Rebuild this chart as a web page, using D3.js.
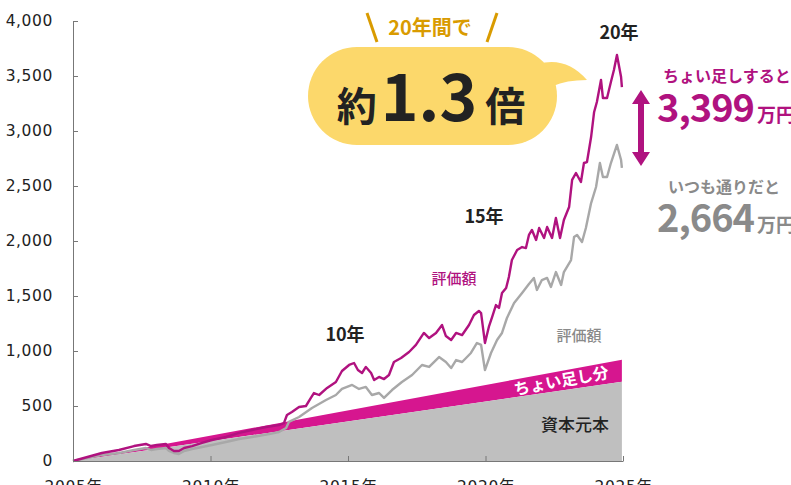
<!DOCTYPE html>
<html lang="ja">
<head>
<meta charset="utf-8">
<script src="https://cdn.jsdelivr.net/npm/d3@7"></script>
<style>
  html, body { margin: 0; padding: 0; background: #fff; }
  svg { display: block; }
</style>
</head>
<body>
<div id="chart"></div>
<script>
// ちょい足しする場合の評価額（万円）
const plusYears = [2005.00, 2006.05, 2006.67, 2007.22, 2007.65, 2007.84, 2008.05, 2008.38, 2008.49, 2008.67,
  2008.85, 2009.04, 2009.33, 2009.69, 2010.05, 2010.56, 2011.04, 2011.51, 2012.02, 2012.49,
  2012.67, 2012.78, 2012.96, 2013.22, 2013.47, 2013.65, 2013.76, 2013.95, 2014.24, 2014.56,
  2014.78, 2015.04, 2015.22, 2015.36, 2015.51, 2015.65, 2015.84, 2015.95, 2016.13, 2016.31,
  2016.49, 2016.67, 2016.93, 2017.22, 2017.47, 2017.76, 2017.95, 2018.20, 2018.42, 2018.56,
  2018.75, 2018.93, 2019.15, 2019.40, 2019.58, 2019.76, 2019.84, 2019.98, 2020.13, 2020.24,
  2020.38, 2020.49, 2020.60, 2020.75, 2020.85, 2020.96, 2021.15, 2021.33, 2021.47, 2021.58,
  2021.69, 2021.84, 2021.95, 2022.13, 2022.24, 2022.42, 2022.56, 2022.71, 2022.85, 2023.04,
  2023.15, 2023.29, 2023.47, 2023.58, 2023.69, 2023.84, 2023.95, 2024.05, 2024.20, 2024.27,
  2024.42, 2024.56, 2024.67, 2024.78, 2024.93, 2024.96];
const plusValues = [0, 73, 100, 136, 155, 136, 145, 155, 118, 91,
  91, 118, 136, 164, 191, 218, 255, 282, 309, 327,
  345, 418, 445, 491, 500, 573, 618, 600, 664, 718,
  818, 873, 891, 827, 800, 855, 800, 736, 764, 745,
  782, 900, 936, 991, 1055, 1164, 1118, 1164, 1236, 1136,
  1100, 1164, 1145, 1236, 1327, 1364, 1345, 1073, 1227, 1309,
  1418, 1391, 1527, 1573, 1673, 1827, 1918, 1945, 1936, 2055,
  2100, 2009, 2118, 2027, 2127, 2027, 2209, 2027, 2191, 2309,
  2555, 2618, 2536, 2709, 2718, 2945, 3173, 3264, 3464, 3300,
  3300, 3445, 3555, 3691, 3491, 3399];

// いつも通りの場合の評価額（万円）
const baseYears = [2005.00, 2006.05, 2006.67, 2007.22, 2007.65, 2007.84, 2008.05, 2008.38, 2008.49, 2008.67,
  2008.85, 2009.04, 2009.33, 2009.69, 2010.05, 2010.56, 2011.04, 2011.51, 2012.13, 2012.49,
  2012.75, 2012.85, 2013.22, 2013.69, 2014.20, 2014.56, 2014.78, 2015.15, 2015.40, 2015.65,
  2015.87, 2016.13, 2016.31, 2016.60, 2016.96, 2017.33, 2017.69, 2017.95, 2018.31, 2018.56,
  2018.75, 2018.93, 2019.15, 2019.47, 2019.69, 2019.84, 2019.98, 2020.20, 2020.42, 2020.60,
  2020.78, 2021.04, 2021.33, 2021.58, 2021.76, 2021.87, 2022.05, 2022.24, 2022.38, 2022.56,
  2022.75, 2022.85, 2023.11, 2023.22, 2023.33, 2023.51, 2023.65, 2023.84, 2024.02, 2024.16,
  2024.27, 2024.42, 2024.56, 2024.78, 2024.93, 2024.96];
const baseValues = [0, 55, 73, 100, 118, 100, 109, 118, 91, 73,
  64, 91, 109, 127, 145, 173, 200, 218, 245, 264,
  300, 355, 400, 482, 555, 600, 655, 691, 655, 673,
  600, 618, 573, 645, 718, 782, 873, 855, 945, 900,
  845, 918, 900, 982, 1073, 1055, 827, 982, 1100, 1164,
  1300, 1436, 1527, 1609, 1664, 1555, 1645, 1664, 1582, 1718,
  1600, 1718, 1827, 2036, 2055, 1991, 2118, 2345, 2491, 2709,
  2582, 2582, 2709, 2873, 2736, 2664];

// 資本元本 と ちょい足し分
const principalYears = [2005, 2024.96];
const principalValues = [0, 720];
const totalValues = [0, 920];

const yTicks = [0, 500, 1000, 1500, 2000, 2500, 3000, 3500, 4000];
const xTicks = [2005, 2010, 2015, 2020, 2025];

const width = 791, height = 485;
const margin = { top: 21, bottom: 24 };

const colors = {
  plusLine: "#b0127f",
  band: "#d6168f",
  baseLine: "#a8a8a8",
  principal: "#bfbfbf",
  axis: "#777",
  ink: "#222",
  gold: "#d99b00",
  bubble: "#fcd86b",
  grayText: "#8a8a8a"
};

const jp = "'Noto Sans CJK JP', 'Noto Sans', sans-serif";

const xScale = d3.scaleLinear().domain([2005, 2025]).range([73, 623]);
const yScale = d3.scaleLinear().domain([0, 4000]).range([height - margin.bottom, margin.top]);

const svg = d3.select("#chart").append("svg")
  .attr("width", width)
  .attr("height", height);

// areas
const principalData = principalYears.map((t, i) => ({ t, p: principalValues[i], s: totalValues[i] }));

svg.append("path")
  .datum(principalData)
  .attr("fill", colors.band)
  .attr("d", d3.area().x(d => xScale(d.t)).y0(d => yScale(d.p)).y1(d => yScale(d.s)));

svg.append("path")
  .datum(principalData)
  .attr("fill", colors.principal)
  .attr("d", d3.area().x(d => xScale(d.t)).y0(yScale(0)).y1(d => yScale(d.p)));

// lines
const line = d3.line().x(d => xScale(d[0])).y(d => yScale(d[1]));

svg.append("path")
  .datum(baseYears.map((t, i) => [t, baseValues[i]]))
  .attr("fill", "none")
  .attr("stroke", colors.baseLine)
  .attr("stroke-width", 2.4)
  .attr("stroke-linejoin", "round")
  .attr("d", line);

svg.append("path")
  .datum(plusYears.map((t, i) => [t, plusValues[i]]))
  .attr("fill", "none")
  .attr("stroke", colors.plusLine)
  .attr("stroke-width", 2.4)
  .attr("stroke-linejoin", "round")
  .attr("d", line);

// axes
const yAxis = svg.append("g")
  .attr("transform", `translate(${xScale(2005)},0)`)
  .call(d3.axisLeft(yScale)
    .tickValues(yTicks)
    .tickFormat(d3.format(","))
    .tickSize(-5)
    .tickSizeOuter(0)
    .tickPadding(20));

const xAxis = svg.append("g")
  .attr("transform", `translate(0,${yScale(0)})`)
  .call(d3.axisBottom(xScale)
    .tickValues(xTicks)
    .tickFormat(d => d + "年")
    .tickSize(-5)
    .tickSizeOuter(0)
    .tickPadding(20));

[yAxis, xAxis].forEach(g => {
  g.select(".domain").attr("stroke", colors.axis);
  g.selectAll(".tick line").attr("stroke", colors.axis);
  g.selectAll(".tick text")
    .attr("fill", colors.ink)
    .style("font-family", "'DejaVu Sans', " + jp)
    .style("font-size", "15.5px")
    .style("letter-spacing", "0.6px");
});

// labels on areas
const tBand = 2022.75;
const frac = (tBand - principalYears[0]) / (principalYears[1] - principalYears[0]);
const bandMid = (principalValues[1] + totalValues[1]) / 2 * frac;
const angle = Math.atan2(yScale(totalValues[1]) - yScale(0), xScale(principalYears[1]) - xScale(2005)) * 180 / Math.PI;

svg.append("text")
  .attr("transform", `translate(${xScale(tBand)},${yScale(bandMid)}) rotate(${angle})`)
  .attr("text-anchor", "middle")
  .attr("dy", "0.36em")
  .attr("fill", "#fff")
  .style("font-family", jp)
  .style("font-weight", 700)
  .style("font-size", "16px")
  .text("ちょい足し分");

svg.append("text")
  .attr("x", 575).attr("y", 431)
  .attr("text-anchor", "middle")
  .attr("fill", colors.ink)
  .style("font-family", jp)
  .style("font-weight", 500)
  .style("font-size", "17px")
  .text("資本元本");

svg.append("text")
  .attr("x", 454).attr("y", 284)
  .attr("text-anchor", "middle")
  .attr("fill", colors.plusLine)
  .style("font-family", jp)
  .style("font-weight", 500)
  .style("font-size", "15px")
  .text("評価額");

svg.append("text")
  .attr("x", 579).attr("y", 341)
  .attr("text-anchor", "middle")
  .attr("fill", colors.grayText)
  .style("font-family", jp)
  .style("font-weight", 500)
  .style("font-size", "15px")
  .text("評価額");

// year markers
[["10年", 345, 341], ["15年", 484, 223], ["20年", 619, 39]].forEach(([s, x, y]) => {
  svg.append("text")
    .attr("x", x).attr("y", y)
    .attr("text-anchor", "middle")
    .attr("fill", colors.ink)
    .style("font-family", jp)
    .style("font-weight", 700)
    .style("font-size", "18px")
    .text(s);
});

// speech bubble
const bubble = svg.append("g");
bubble.append("path")
  .attr("fill", colors.bubble)
  .attr("d", "M538,64 Q566,56 587,80 Q566,80 553,86 Z");
bubble.append("rect")
  .attr("x", 308).attr("y", 47)
  .attr("width", 249).attr("height", 98)
  .attr("rx", 49)
  .attr("fill", colors.bubble);

const big = bubble.append("text")
  .attr("x", 431).attr("y", 121)
  .attr("text-anchor", "middle")
  .attr("fill", colors.ink)
  .style("font-family", jp)
  .style("font-weight", 700);
big.append("tspan").style("font-size", "40px").text("約");
big.append("tspan").attr("dx", 4).style("font-size", "64px").text("1.3");
big.append("tspan").attr("dx", 8).style("font-size", "40px").text("倍");

svg.append("text")
  .attr("x", 430).attr("y", 35)
  .attr("text-anchor", "middle")
  .attr("fill", colors.gold)
  .style("font-family", jp)
  .style("font-weight", 700)
  .style("font-size", "20px")
  .text("20年間で");

svg.append("line")
  .attr("x1", 367).attr("y1", 13).attr("x2", 377).attr("y2", 42)
  .attr("stroke", colors.gold).attr("stroke-width", 3);
svg.append("line")
  .attr("x1", 497).attr("y1", 13).attr("x2", 487).attr("y2", 42)
  .attr("stroke", colors.gold).attr("stroke-width", 3);

// right annotations
const ax = 641;
svg.append("path")
  .attr("fill", colors.plusLine)
  .attr("d", `M${ax},90 L${ax + 9},104 L${ax + 3},104 L${ax + 3},152 L${ax + 9},152 L${ax},166 L${ax - 9},152 L${ax - 3},152 L${ax - 3},104 L${ax - 9},104 Z`);

svg.append("text")
  .attr("x", 663).attr("y", 82)
  .attr("fill", colors.plusLine)
  .style("font-family", jp)
  .style("font-weight", 700)
  .style("font-size", "16px")
  .text("ちょい足しすると");

const v1 = svg.append("text")
  .attr("x", 657).attr("y", 122)
  .attr("fill", colors.plusLine)
  .style("font-family", jp)
  .style("font-weight", 700);
v1.append("tspan").style("font-size", "38px").style("letter-spacing", "-1px").text("3,399");
v1.append("tspan").attr("dx", 3).style("font-size", "19px").text("万円");

svg.append("text")
  .attr("x", 668).attr("y", 193)
  .attr("fill", colors.grayText)
  .style("font-family", jp)
  .style("font-weight", 700)
  .style("font-size", "16px")
  .text("いつも通りだと");

const v2 = svg.append("text")
  .attr("x", 657).attr("y", 232)
  .attr("fill", colors.grayText)
  .style("font-family", jp)
  .style("font-weight", 700);
v2.append("tspan").style("font-size", "38px").style("letter-spacing", "-1px").text("2,664");
v2.append("tspan").attr("dx", 3).style("font-size", "19px").text("万円");
</script>
</body>
</html>
